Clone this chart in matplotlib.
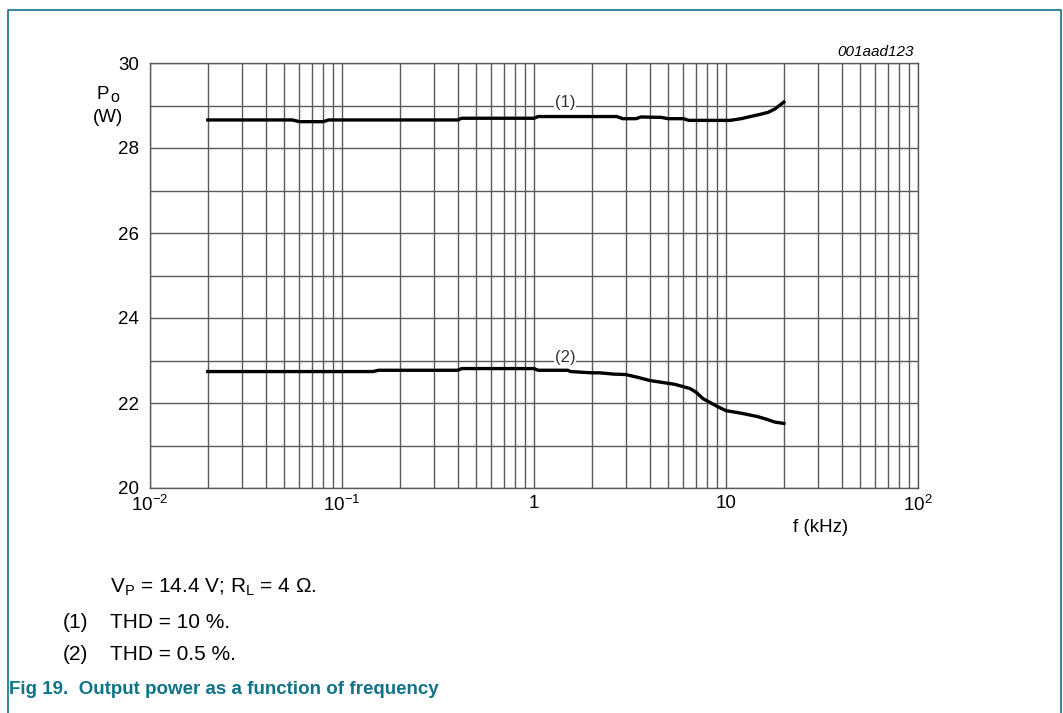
import matplotlib
matplotlib.use("Agg")
import matplotlib.pyplot as plt
from matplotlib.lines import Line2D
import numpy as np

plt.rcParams['font.family'] = ['Liberation Sans', 'DejaVu Sans']
plt.rcParams['mathtext.fontset'] = 'custom'
plt.rcParams['mathtext.rm'] = 'Liberation Sans'
plt.rcParams['mathtext.it'] = 'Liberation Sans:italic'

# frequency (kHz) and output power (W)
f1 = [0.02, 0.055, 0.06, 0.08, 0.085, 0.40, 0.42, 1.0, 1.05, 2.7, 2.9, 3.4, 3.6,
      4.6, 5.0, 6.0, 6.4, 10.5, 12.0, 13.7, 15.0, 16.6, 18.0, 20.0]
p1 = [28.66, 28.66, 28.62, 28.62, 28.66, 28.66, 28.70, 28.70, 28.74, 28.74, 28.69, 28.69, 28.73,
      28.72, 28.69, 28.69, 28.65, 28.65, 28.69, 28.75, 28.79, 28.84, 28.92, 29.08]

f2 = [0.02, 0.145, 0.155, 0.40, 0.42, 1.0, 1.05, 1.5, 1.55, 2.0, 2.2, 2.6, 3.0, 3.5, 4.0,
      5.4, 6.5, 7.0, 7.6, 9.0, 10.0, 12.0, 14.6, 16.2, 18.0, 20.0]
p2 = [22.74, 22.74, 22.77, 22.77, 22.81, 22.81, 22.77, 22.77, 22.74, 22.71, 22.71, 22.68, 22.67, 22.60, 22.53,
      22.44, 22.34, 22.25, 22.10, 21.92, 21.82, 21.76, 21.68, 21.62, 21.55, 21.52]

teal = '#0f7389'
grid_c = '#5a5a5a'

fig = plt.figure(figsize=(10.63, 7.13), dpi=100, facecolor='white')
ax = fig.add_axes([150/1063, 1 - 488/713, 768/1063, 425/713])

ax.plot(f1, p1, color='black', lw=2.4, solid_joinstyle='round', zorder=3)
ax.plot(f2, p2, color='black', lw=2.4, solid_joinstyle='round', zorder=3)

ax.set_xscale('log')
ax.set_xlim(0.01, 100)
ax.set_ylim(20, 30)
ax.set_xticks([0.01, 0.1, 1, 10, 100])
ax.set_xticklabels([r'10$^{-2}$', r'10$^{-1}$', '1', '10', r'10$^{2}$'])
ax.set_yticks(np.arange(20, 31, 2))
ax.set_yticks(np.arange(21, 30, 2), minor=True)
ax.xaxis.set_minor_locator(matplotlib.ticker.LogLocator(base=10, subs=np.arange(2, 10)))
ax.xaxis.set_minor_formatter(matplotlib.ticker.NullFormatter())
ax.grid(True, which='both', color=grid_c, lw=1.0)
ax.set_axisbelow(True)
ax.tick_params(which='both', length=0, labelsize=13.5, pad=5)
ax.tick_params(axis='y', pad=8)
for s in ax.spines.values():
    s.set_color(grid_c)
    s.set_linewidth(1.0)

# curve labels sitting on the gridlines (drawn under the curves)
ax.text(1.45, 29.06, '(1)', ha='center', va='center', fontsize=12, color='#333333',
        bbox=dict(facecolor='white', edgecolor='none', pad=0.8), zorder=2.5)
ax.text(1.45, 23.06, '(2)', ha='center', va='center', fontsize=12, color='#333333',
        bbox=dict(facecolor='white', edgecolor='none', pad=0.8), zorder=2.5)

# y axis label P_o (W)
fig.text(97/1063, 1 - 99/713, 'P', fontsize=13.5, ha='left', va='baseline')
fig.text(110/1063, 1 - 102/713, 'o', fontsize=11.5, ha='left', va='baseline')
fig.text(107.5/1063, 1 - 122/713, '(W)', fontsize=13.5, ha='center', va='baseline')
fig.text(914/1063, 1 - 52/713, '001aad123', fontsize=11, style='italic', ha='right', va='center')
fig.text(821/1063, 1 - 528/713, 'f (kHz)', fontsize=13.5, ha='center', va='center')

# notes under the chart
fig.text(110/1063, 1 - 587/713, r'V$_\mathrm{P}$ = 14.4 V; R$_\mathrm{L}$ = 4 $\Omega$.', fontsize=15,
         ha='left', va='center')
fig.text(63/1063, 1 - 623/713, '(1)', fontsize=15, ha='left', va='center')
fig.text(110/1063, 1 - 623/713, 'THD = 10 %.', fontsize=15, ha='left', va='center')
fig.text(63/1063, 1 - 654/713, '(2)', fontsize=15, ha='left', va='center')
fig.text(110/1063, 1 - 654/713, 'THD = 0.5 %.', fontsize=15, ha='left', va='center')
fig.text(9/1063, 1 - 690/713, 'Fig 19.  Output power as a function of frequency', fontsize=13.5,
         fontweight='bold', color=teal, ha='left', va='center')

# frame around the figure area
x0, x1, yt = 7.5/1063, 1061/1063, 1 - 9.5/713
fig.add_artist(Line2D([x0, x0, x1, x1], [0, yt, yt, 0], color=teal, lw=1.2, transform=fig.transFigure))

fig.savefig('out.png', dpi=100, facecolor='white')
